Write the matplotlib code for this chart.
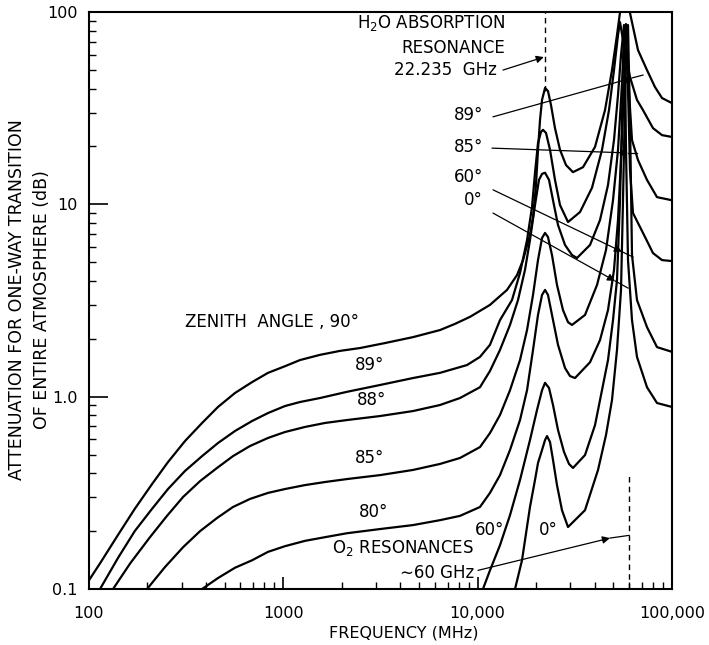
import numpy as np
import matplotlib
matplotlib.use('Agg')
import matplotlib.pyplot as plt
from matplotlib.ticker import FixedLocator, LogLocator, NullFormatter

# one-way attenuation through the entire atmosphere, one curve per zenith angle
# frequency in MHz, attenuation in dB
freq_90 = [100, 114, 141, 172, 211, 255, 312, 382, 461, 564, 690, 834, 1020, 1218,
           1545, 1957, 2480, 3336, 4650, 6401, 7643, 9133,
           11570, 14160, 15950, 17120, 18590, 19270, 19960, 20440, 20940, 21440,
           22220, 23010, 23850, 25000, 26530, 28490, 30940, 34840, 40180, 45220,
           49130, 52120, 54660, 56630, 59380, 60800, 66840, 74360, 81760, 88850, 100000]
att_90 = [0.111, 0.136, 0.191, 0.261, 0.351, 0.457, 0.588, 0.730, 0.884, 1.045, 1.19, 1.33, 1.44, 1.55,
          1.65, 1.73, 1.79, 1.90, 2.04, 2.22, 2.39, 2.60,
          3.00, 3.59, 4.29, 5.13, 6.93, 8.59, 12.6, 19.2, 27.5, 34.9,
          40.3, 38.8, 32.8, 24.9, 19.2, 16.0, 14.7, 15.6, 19.9, 30.9,
          49.9, 75.9, 109, 130, 109, 98.8, 63.4, 49.9, 40.7, 35.7, 33.6]

freq_89 = [114, 141, 172, 211, 255, 312, 382, 461, 564, 690, 834, 1020, 1218, 1545,
           2127, 3144, 4650, 6401, 8813, 10280, 11570,
           13030, 15020, 16520, 17950, 19040, 19730, 20440, 21180,
           21690, 22480, 23570, 25000, 26530, 29170, 33630, 38770, 43640, 47410,
           50300, 52750, 54010, 55960, 60800, 66050, 70920, 79840, 88850, 100000]
att_89 = [0.1, 0.145, 0.200, 0.261, 0.331, 0.411, 0.491, 0.574, 0.663, 0.747, 0.822, 0.894, 0.938, 0.984,
          1.06, 1.15, 1.25, 1.33, 1.46, 1.61, 1.86,
          2.50, 3.18, 4.40, 6.52, 9.68, 14.6, 20.8, 23.8,
          24.4, 23.5, 19.2, 13.4, 9.92, 8.09, 9.12, 12.2, 19.2, 30.9,
          49.9, 75.9, 88.7, 71.5, 45.9, 34.9, 30.9, 24.9, 22.9, 22.4]

freq_88 = [133, 163, 206, 252, 305, 373, 456, 551, 674, 834, 1020, 1293, 1639, 2127,
           3144, 4650, 6401, 8112, 10280, 11570, 13030,
           14670, 16130, 17520, 18590, 19730, 20680,
           21440, 22220, 23290, 24420, 25910, 28150, 30580, 32450, 37860, 42630,
           46850, 50300, 52750, 54660, 56630, 58680, 62260, 66840, 74360, 83730, 100000]
att_88 = [0.1, 0.136, 0.186, 0.240, 0.301, 0.364, 0.426, 0.491, 0.554, 0.610, 0.655, 0.696, 0.730, 0.756,
          0.793, 0.842, 0.905, 0.984, 1.12, 1.36, 1.75,
          2.36, 3.18, 4.56, 6.52, 9.92, 13.4,
          14.4, 14.6, 13.4, 10.5, 7.81, 6.15, 5.45, 5.26, 6.15, 8.29,
          12.6, 21.6, 37.0, 59.8, 85.6, 56.3, 21.6, 17.0, 13.4, 10.9, 10.5]

freq_85 = [199, 246, 305, 373, 456, 551, 674, 834, 1020, 1293, 1639, 2127, 3144, 4650,
           6401, 8112, 10280, 11570, 13030,
           14670, 16520, 17950, 19270, 20440, 21440, 22220,
           23010, 24130, 25600, 27490, 29170, 30580, 35680, 41140, 45760, 49710,
           52750, 54660, 56630, 57990, 59380, 60800, 63000, 70920, 79840, 88850, 100000]
att_85 = [0.1, 0.130, 0.165, 0.200, 0.234, 0.267, 0.294, 0.316, 0.331, 0.347, 0.360, 0.373, 0.391, 0.416,
          0.447, 0.480, 0.547, 0.647, 0.803,
          1.08, 1.55, 2.22, 3.38, 5.13, 6.68, 7.10,
          6.76, 5.45, 3.81, 2.82, 2.44, 2.36, 2.66, 3.81, 5.79, 10.5,
          19.2, 34.9, 63.4, 86.6, 39.3, 15.1, 9.01, 7.10, 5.58, 5.13, 5.07]

freq_80 = [382, 461, 564, 690, 834, 1020, 1293, 1639, 2127, 3144, 4650, 6401, 8112,
           10280, 11570, 13030,
           14670, 16520, 17950, 19270, 20440, 21440, 22220, 23010, 24130,
           25910, 28150, 29870, 31690, 37860, 42630, 46850, 50300, 52750, 54660,
           56630, 57990, 59380, 60800, 62260, 66050, 74360, 83730, 100000]
att_80 = [0.1, 0.114, 0.129, 0.141, 0.156, 0.167, 0.178, 0.186, 0.195, 0.205, 0.215, 0.228, 0.240,
          0.267, 0.316, 0.391,
          0.528, 0.756, 1.08, 1.75, 2.66, 3.38, 3.59, 3.38, 2.66,
          1.86, 1.41, 1.28, 1.25, 1.51, 1.97, 2.82, 4.56, 8.29, 17.0,
          39.3, 67.3, 85.6, 27.5, 5.45, 3.18, 2.30, 1.81, 1.71]

freq_60 = [10650, 11570, 13030, 14670, 16520, 18590, 20200, 21440, 22220, 23290,
           24420, 25910, 27820, 29510, 30940, 35680, 40180, 42630, 46850, 49710,
           52120, 54010, 55310, 55960, 56630, 57310, 57990, 59380, 62260, 66050,
           74360, 83730, 100000]
att_60 = [0.1, 0.125, 0.169, 0.242, 0.369, 0.595, 0.852, 1.08, 1.18, 1.11,
          0.905, 0.671, 0.516, 0.447, 0.426, 0.497, 0.712, 0.961, 1.55, 2.50,
          4.04, 10.5, 27.5, 56.3, 75.9, 56.3, 19.2, 5.13, 2.50, 1.61,
          1.12, 0.927, 0.884]

freq_0 = [15570, 16910, 18590, 19730, 20440, 21440, 22220, 22750, 23570, 24420,
          25600, 27160, 29170, 35680, 41630, 45760, 49130, 52120, 54660, 55960,
          57310, 57990, 58680]
att_0 = [0.1, 0.141, 0.267, 0.369, 0.452, 0.528, 0.595, 0.624, 0.581, 0.469,
         0.347, 0.257, 0.210, 0.257, 0.416, 0.632, 0.961, 1.75, 3.59, 10.5,
         34.9, 63.4, 80.5]

curves = [(freq_90, att_90), (freq_89, att_89), (freq_88, att_88), (freq_85, att_85),
          (freq_80, att_80), (freq_60, att_60), (freq_0, att_0)]

h2o_line = 22235.0   # MHz
o2_line = 60000.0    # MHz

x_ticks = [100, 1000, 10000, 100000]
x_ticklabels = ['100', '1000', '10,000', '100,000']
y_ticks = [0.1, 1.0, 10, 100]
y_ticklabels = ['0.1', '1.0', '10', '100']

fig = plt.figure(figsize=(7.09, 6.45), dpi=100)
ax = fig.add_axes([0.1255, 0.0868, 0.8223, 0.8946])
ax.set_xscale('log'); ax.set_yscale('log')
ax.set_xlim(100, 100000); ax.set_ylim(0.1, 100)

for f, a in curves:
    ax.plot(f, a, color='black', lw=1.6, solid_joinstyle='round')

# resonance markers
ax.plot([h2o_line, h2o_line], [39, 100], color='black', lw=1.0, ls=(0, (4, 3)))
ax.plot([o2_line, o2_line], [0.1, 0.40], color='black', lw=1.0, ls=(0, (4, 3)))

txt = dict(fontsize=12, color='black')

ax.text(875, 2.44, 'ZENITH  ANGLE , 90°', ha='center', va='center', **txt)
ax.text(2793, 1.46, '89°', ha='center', va='center', **txt)
ax.text(2860, 0.961, '88°', ha='center', va='center', **txt)
ax.text(2793, 0.480, '85°', ha='center', va='center', **txt)
ax.text(2928, 0.251, '80°', ha='center', va='center', **txt)
ax.text(1780, 0.163, 'O$_2$ RESONANCES', ha='left', va='center', **txt)
ax.text(3985, 0.121, '∼60 GHz', ha='left', va='center', **txt)
ax.text(11570, 0.203, '60°', ha='center', va='center', **txt)
ax.text(23010, 0.203, '0°', ha='center', va='center', **txt)

ax.text(13820, 87.7, 'H$_2$O ABSORPTION', ha='right', va='center', **txt)
ax.text(13820, 65.0, 'RESONANCE', ha='right', va='center', **txt)
ax.text(12580, 49.9, '22.235  GHz', ha='right', va='center', **txt)

for lab, a in [('89°', 29.1), ('85°', 19.9), ('60°', 13.9), ('0°', 10.5)]:
    ax.text(10660, a, lab, ha='right', va='center', **txt)

arrow = dict(arrowstyle='-|>', color='black', lw=0.9, mutation_scale=11,
             shrinkA=0, shrinkB=0)

def leader(start, tip, end=None):
    ax.annotate('', xy=tip, xytext=start, arrowprops=arrow)
    if end is not None:
        ax.plot([tip[0], end[0]], [tip[1], end[1]], color='black', lw=0.9)

leader((11990, 28.5), (62260, 45.4), (70920, 47.0))
leader((11850, 19.6), (59380, 18.5), (66050, 18.5))
leader((11990, 11.9), (55310, 5.67), (63000, 5.32))
leader((11990, 9.01), (50900, 4.00), (59380, 3.67))
leader((13500, 49.9), (21900, 58.3))
leader((10040, 0.125), (47970, 0.184), (o2_line, 0.19))

# axes styling
for s in ax.spines.values():
    s.set_linewidth(1.5)
ax.xaxis.set_major_locator(FixedLocator(x_ticks))
ax.set_xticklabels(x_ticklabels)
ax.yaxis.set_major_locator(FixedLocator(y_ticks))
ax.set_yticklabels(y_ticklabels)
ax.xaxis.set_minor_locator(LogLocator(base=10, subs=np.arange(2, 10)))
ax.yaxis.set_minor_locator(LogLocator(base=10, subs=np.arange(2, 10)))
ax.xaxis.set_minor_formatter(NullFormatter())
ax.yaxis.set_minor_formatter(NullFormatter())
ax.tick_params(axis='y', which='major', direction='in', length=14, width=1.2,
               labelsize=11.5, pad=8)
ax.tick_params(axis='y', which='minor', direction='in', length=5, width=1.0)
ax.tick_params(axis='x', which='major', direction='in', length=9, width=1.2,
               labelsize=11.5, pad=12)
ax.tick_params(axis='x', which='minor', direction='in', length=5, width=1.0)

fig.text(0.570, 0.019, 'FREQUENCY (MHz)', ha='center', va='center', fontsize=11.5)
fig.text(0.041, 0.535, 'ATTENUATION FOR ONE-WAY TRANSITION\nOF ENTIRE ATMOSPHERE (dB)',
         rotation=90, ha='center', va='center', fontsize=12.5, linespacing=1.5)

fig.savefig('out.png', dpi=100)
